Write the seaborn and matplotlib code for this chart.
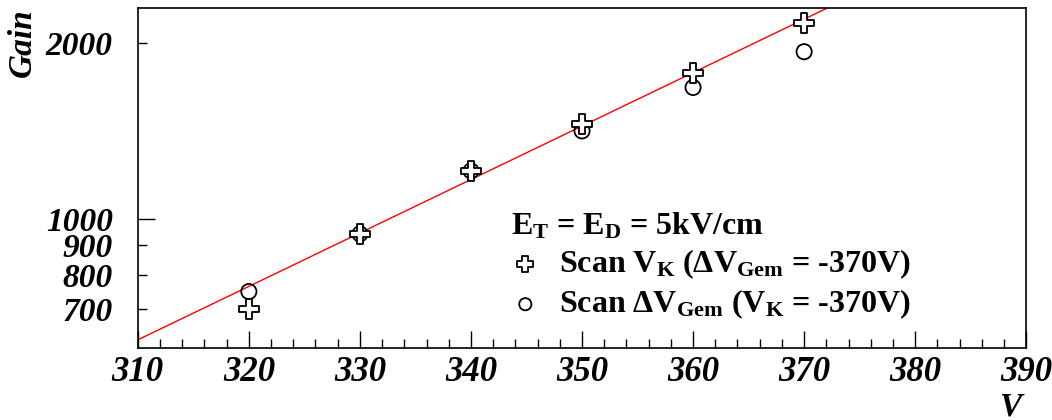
import numpy as np
import matplotlib
matplotlib.use('Agg')
import matplotlib.pyplot as plt
import seaborn as sns
from matplotlib.ticker import FixedLocator, FixedFormatter, MultipleLocator

# Data
volts = [320, 330, 340, 350, 360, 370]
gain_scan_vk = [701, 940, 1210, 1455, 1780, 2170]
gain_scan_dvgem = [750, 942, 1208, 1415, 1680, 1935]

# exponential fit: Gain = exp(fit_const + fit_slope * V)
fit_const = -0.118
fit_slope = 0.02112

label_vk = r'Scan V$_{\mathrm{K}}$ (ΔV$_{\mathrm{Gem}}$ = -370V)'
label_dvgem = r'Scan ΔV$_{\mathrm{Gem}}$ (V$_{\mathrm{K}}$ = -370V)'
legend_header = r'E$_{\mathrm{T}}$ = E$_{\mathrm{D}}$ = 5kV/cm'

sns.set_theme(style='ticks')
plt.rcParams['font.family'] = ['Liberation Serif', 'DejaVu Serif']
plt.rcParams['font.weight'] = 'bold'
plt.rcParams['text.color'] = 'black'
plt.rcParams['axes.labelcolor'] = 'black'
plt.rcParams['mathtext.fontset'] = 'custom'
plt.rcParams['mathtext.rm'] = 'Liberation Serif:style=normal:weight=bold'
plt.rcParams['mathtext.bf'] = 'Liberation Serif:style=normal:weight=bold'
plt.rcParams['mathtext.it'] = 'Liberation Serif:style=italic:weight=bold'

fig = plt.figure(figsize=(10.52, 4.2), dpi=100)
ax = fig.add_axes([0.131, 0.1714, 0.8445, 0.8096])

# fit line
v_fit = np.linspace(310, 390, 200)
sns.lineplot(x=v_fit, y=np.exp(fit_const + fit_slope * v_fit), color='red',
             linewidth=1, ax=ax, zorder=1)

sns.scatterplot(x=volts, y=gain_scan_dvgem, marker='o', s=120,
                facecolors='none', edgecolor='black', linewidth=1.3,
                label=label_dvgem, ax=ax, zorder=3)
sns.scatterplot(x=volts, y=gain_scan_vk, marker='P', s=190,
                color='white', edgecolor='black', linewidth=1.3,
                label=label_vk, ax=ax, zorder=4)

ax.set_yscale('log')
ax.set_xlim(310, 390)
ax.set_ylim(600, 2300)

ax.xaxis.set_major_locator(MultipleLocator(10))
ax.xaxis.set_minor_locator(MultipleLocator(2))
ax.yaxis.set_major_locator(FixedLocator([1000]))
ax.yaxis.set_major_formatter(FixedFormatter(['1000']))
ax.yaxis.set_minor_locator(FixedLocator([700, 800, 900, 2000]))
ax.yaxis.set_minor_formatter(FixedFormatter(['700', '800', '900', '2000']))

ax.tick_params(which='both', direction='in', color='black', width=1,
               labelsize=25, labelcolor='black')
ax.tick_params(axis='y', which='both', labelsize=24, pad=18)
ax.tick_params(axis='x', which='both', pad=6)
ax.tick_params(which='major', length=12.5)
ax.tick_params(which='minor', length=6.5)

for sp in ax.spines.values():
    sp.set_color('black')
    sp.set_linewidth(1.2)

ax.set_xlabel('')
ax.set_ylabel('')
fig.text(22 / 1052, 1 - 8 / 420, 'Gain', rotation=90, ha='center', va='top',
         fontsize=24, fontstyle='italic', color='black')
fig.text(1010 / 1052, 5 / 420, 'V', ha='center', va='baseline', fontsize=24,
         fontstyle='italic', color='black')

handles, labels = ax.get_legend_handles_labels()
order = [labels.index(label_vk), labels.index(label_dvgem)]
leg = ax.legend([handles[i] for i in order], [labels[i] for i in order],
                title=legend_header, loc='upper left',
                bbox_to_anchor=(0.42, 0.403), frameon=False, fontsize=23,
                title_fontsize=23, alignment='left', handletextpad=0.6,
                handlelength=0.9, labelspacing=0.2, borderpad=0,
                borderaxespad=0, markerscale=0.8, labelcolor='black')
leg.get_title().set_color('black')

fig.canvas.draw()
for t in ax.get_xticklabels(which='both') + ax.get_yticklabels(which='both'):
    t.set_fontstyle('italic')

fig.savefig('out.png', dpi=100)
